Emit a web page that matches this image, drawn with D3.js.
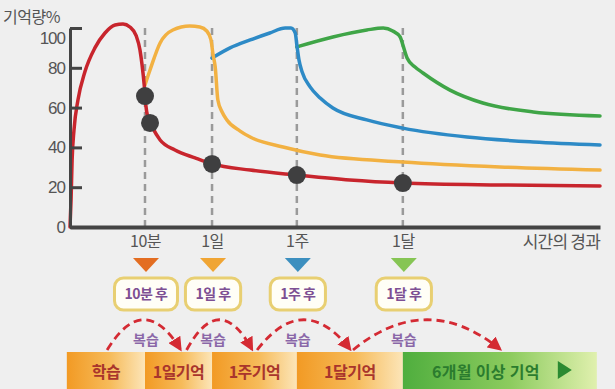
<!DOCTYPE html>
<html>
<head>
<meta charset="utf-8">
<script src="https://cdn.jsdelivr.net/npm/d3@7"></script>
<style>
  body { margin: 0; background: #efefef; }
  svg { display: block; font-family: "Noto Sans CJK KR", "Noto Sans", sans-serif; }
</style>
</head>
<body>
<div id="chart"></div>
<script>
// data (x in "time units" 0..100, y in %)
var tickNames = ["10분", "1일", "1주", "1달"];
var tickPos = [14.15, 26.8, 42.8, 62.8];
var yTicks = [0, 20, 40, 60, 80, 100];

var redCurve = [[0,0],[0.2,13.6],[0.4,33.7],[0.75,48.7],[1.5,63.8],[2.8,77.9],[4.7,90],[6.6,97.5],[8.5,101.5],[10,102],
  [11.3,100.5],[12.5,96],[13.2,89],[13.6,81.4],[14,71.4],[14.3,61.3],[14.7,54.8],[15.5,50.3],[17,43.7],[19.8,38.7],
  [23.6,34.7],[26.8,31.7],[34,28.6],[42.8,26.1],[52.8,23.6],[62.8,22.1],[81.1,21.1],[100,20.6]];
var orangeCurve = [[14.15,71.4],[15.1,78.9],[17,92.5],[19.4,99],[22.6,101],[24.5,100.5],[25.8,98.5],[26.6,94],[27,86.4],
  [27.4,80.4],[27.9,63.8],[28.7,57.8],[29.6,53.8],[32.1,48.2],[34,45.2],[40.2,40.2],[47.2,36.2],[62.8,32.7],[81.1,30.2],[100,28.6]];
var blueCurve = [[26.8,84.9],[30.2,90],[34,94],[37.7,97.5],[40.6,100],[41.7,100],[42.5,97.5],[42.8,91.5],[43.2,84],
  [43.8,77.9],[45.3,70.4],[47.2,64.8],[49.6,59.8],[56,53.8],[62.8,49.7],[74.9,45.2],[87.4,42.7],[100,41.2]];
var greenCurve = [[42.8,90.5],[49.6,95.5],[56,99],[59.1,100],[60.9,98.5],[62.3,95.5],[62.8,91.5],[63.6,84.9],[65.1,80.4],
  [66.6,77.4],[71.7,68.8],[77.9,62.3],[87.4,57.8],[100,55.8]];
var dots = [[14.15,65.8],[15.1,52.3],[26.8,31.7],[42.8,26.1],[62.8,22.1]];

var boxLabels = ["10분 후", "1일 후", "1주 후", "1달 후"];
var stageLabels = ["학습", "1일기억", "1주기억", "1달기억", "6개월 이상 기억"];
var stageEdges = [-0.6, 14.15, 26.8, 42.8, 62.8, 99.4];
var reviewArcs = [[7, 20.8], [22, 34.3], [35.3, 52.8], [53.4, 81.1]];

var width = 615, height = 389;

var svg = d3.select("#chart")
  .append("svg")
    .attr("width", width)
    .attr("height", height);

svg.append("rect").attr("width", width).attr("height", height).attr("fill", "#efefef");

var defs = svg.append("defs");
var og = defs.append("linearGradient").attr("id", "gOrange");
og.append("stop").attr("offset", "0%").attr("stop-color", "#f29a24");
og.append("stop").attr("offset", "55%").attr("stop-color", "#f6bb5a");
og.append("stop").attr("offset", "100%").attr("stop-color", "#fce5b8");
var gg = defs.append("linearGradient").attr("id", "gGreen");
gg.append("stop").attr("offset", "0%").attr("stop-color", "#4fae3e");
gg.append("stop").attr("offset", "55%").attr("stop-color", "#8ccb5e");
gg.append("stop").attr("offset", "100%").attr("stop-color", "#e0f0ae");
defs.append("marker")
  .attr("id", "arrow")
  .attr("viewBox", "0 0 10 10")
  .attr("refX", 8).attr("refY", 5)
  .attr("markerWidth", 5).attr("markerHeight", 5)
  .attr("markerUnits", "strokeWidth")
  .attr("orient", "auto")
  .append("path").attr("d", "M0,0L10,5L0,10Z").attr("fill", "#d42a33");

// scales
var x = d3.scaleLinear().domain([0, 100]).range([70, 600]);
var y = d3.scaleLinear().domain([0, 100]).range([227, 28]);

// dashed guides
svg.selectAll(".guide")
  .data(tickPos)
  .enter().append("line")
    .attr("x1", function(d) { return x(d); })
    .attr("x2", function(d) { return x(d); })
    .attr("y1", y(0))
    .attr("y2", y(100.5))
    .attr("stroke", "#9a9a9a")
    .attr("stroke-width", 2.5)
    .attr("stroke-dasharray", "7,5");

// curves
var line = d3.line()
  .x(function(d) { return x(d[0]); })
  .y(function(d) { return y(d[1]); })
  .curve(d3.curveMonotoneX);

var curves = [
  {data: greenCurve, color: "#3fa547"},
  {data: blueCurve, color: "#2d8ac6"},
  {data: orangeCurve, color: "#f2b142"},
  {data: redCurve, color: "#c8252d"}
];
curves.forEach(function(c) {
  svg.append("path")
    .attr("d", line(c.data))
    .attr("fill", "none")
    .attr("stroke", c.color)
    .attr("stroke-width", 3.5)
    .attr("stroke-linecap", "round");
});

svg.selectAll(".dot")
  .data(dots)
  .enter().append("circle")
    .attr("cx", function(d) { return x(d[0]); })
    .attr("cy", function(d) { return y(d[1]); })
    .attr("r", 9)
    .attr("fill", "#3f3f40");

// Y axis
var yAxis = svg.append("g")
  .attr("transform", "translate(70,0)")
  .call(d3.axisLeft(y).tickValues(yTicks).tickSize(-12).tickSizeOuter(0).tickPadding(5));
yAxis.select(".domain").attr("stroke", "#444").attr("stroke-width", 3);
yAxis.selectAll(".tick line").attr("stroke", "#444").attr("stroke-width", 3);
yAxis.selectAll(".tick text")
  .attr("fill", "#555")
  .style("font-size", "17px")
  .style("font-family", "'Liberation Sans', sans-serif")
  .attr("letter-spacing", "-1")
  .attr("dy", function(d) { return d === 100 ? "0.9em" : "0.32em"; });

// X axis
var xAxis = svg.append("g")
  .attr("transform", "translate(0," + y(0) + ")")
  .call(d3.axisBottom(x).tickValues(tickPos)
    .tickFormat(function(d, i) { return tickNames[i]; })
    .tickSize(0).tickSizeOuter(0).tickPadding(9));
xAxis.select(".domain").attr("stroke", "#444").attr("stroke-width", 4);
xAxis.selectAll(".tick text")
  .attr("fill", "#555")
  .style("font-size", "16px")
  .style("font-family", "'Noto Sans CJK KR', sans-serif")
  .attr("letter-spacing", "-0.5");

svg.append("text")
  .attr("x", 3).attr("y", 23)
  .attr("fill", "#555")
  .style("font-size", "16px")
  .attr("letter-spacing", "-0.5")
  .text("기억량%");

svg.append("text")
  .attr("x", 600).attr("y", 248)
  .attr("text-anchor", "end")
  .attr("fill", "#555")
  .style("font-size", "17px")
  .attr("letter-spacing", "-0.8")
  .text("시간의 경과");

// triangles under the ticks
var triColors = ["#e36d21", "#f0a534", "#3c8fbf", "#86c554"];
svg.selectAll(".tri")
  .data(tickPos)
  .enter().append("path")
    .attr("d", function(d) {
      var cx = x(d) + 1;
      return "M" + (cx - 13) + ",258L" + (cx + 13) + ",258L" + cx + ",272Z";
    })
    .attr("fill", function(d, i) { return triColors[i]; });

// labelled boxes
var boxes = svg.selectAll(".box")
  .data(tickPos)
  .enter().append("g")
    .attr("transform", function(d) { return "translate(" + (x(d) + 1) + ",0)"; });
var boxText = boxes.append("text")
  .attr("y", 299)
  .attr("text-anchor", "middle")
  .attr("fill", "#7d4f93")
  .style("font-size", "14px")
  .style("font-weight", "bold")
  .attr("letter-spacing", "-0.5")
  .text(function(d, i) { return boxLabels[i]; });
boxes.insert("rect", "text")
  .each(function() {
    var w = this.parentNode.querySelector("text").getComputedTextLength() + 20;
    d3.select(this)
      .attr("x", -w / 2).attr("width", w);
  })
  .attr("y", 278).attr("height", 32)
  .attr("rx", 9).attr("ry", 9)
  .attr("fill", "#fffef6")
  .attr("stroke", "#e8cf72")
  .attr("stroke-width", 3);

// stage bars
var stages = stageLabels.map(function(s, i) {
  return {label: s, x0: stageEdges[i], x1: stageEdges[i + 1], last: i === stageLabels.length - 1};
});
svg.selectAll(".stage")
  .data(stages)
  .enter().append("rect")
    .attr("x", function(d) { return x(d.x0); })
    .attr("width", function(d) { return x(d.x1) - x(d.x0); })
    .attr("y", 352)
    .attr("height", 40)
    .attr("fill", function(d) { return d.last ? "url(#gGreen)" : "url(#gOrange)"; });
svg.selectAll(".stageText")
  .data(stages)
  .enter().append("text")
    .attr("x", function(d) { return (x(d.x0) + x(d.x1)) / 2 - (d.last ? 14 : 0); })
    .attr("y", 378)
    .attr("text-anchor", "middle")
    .attr("fill", function(d) { return d.last ? "#2b7c2e" : "#a9352c"; })
    .style("font-size", "16px")
    .style("font-weight", "bold")
    .attr("letter-spacing", function(d) { return d.last ? "0.3" : "-0.5"; })
    .text(function(d) { return d.label; });
var lastStage = stages[stages.length - 1];
var triX = (x(lastStage.x0) + x(lastStage.x1)) / 2 + 58;
svg.append("path")
  .attr("d", "M" + triX + ",361L" + (triX + 14) + ",370L" + triX + ",379Z")
  .attr("fill", "#2b8a31");

// review arcs
svg.selectAll(".arc")
  .data(reviewArcs)
  .enter().append("path")
    .attr("d", function(d) {
      var x0 = x(d[0]), x1 = x(d[1]), cx = (x0 + x1) / 2;
      return "M" + x0 + ",350Q" + cx + ",290 " + x1 + ",349";
    })
    .attr("fill", "none")
    .attr("stroke", "#d42a33")
    .attr("stroke-width", 2.8)
    .attr("stroke-dasharray", "8,5")
    .attr("marker-end", "url(#arrow)");

svg.selectAll(".review")
  .data(tickPos)
  .enter().append("text")
    .attr("x", function(d) { return x(d) + 1; })
    .attr("y", 345)
    .attr("text-anchor", "middle")
    .attr("fill", "#8a67a8")
    .style("font-size", "14px")
    .style("font-weight", "bold")
    .text("복습");
</script>
</body>
</html>
